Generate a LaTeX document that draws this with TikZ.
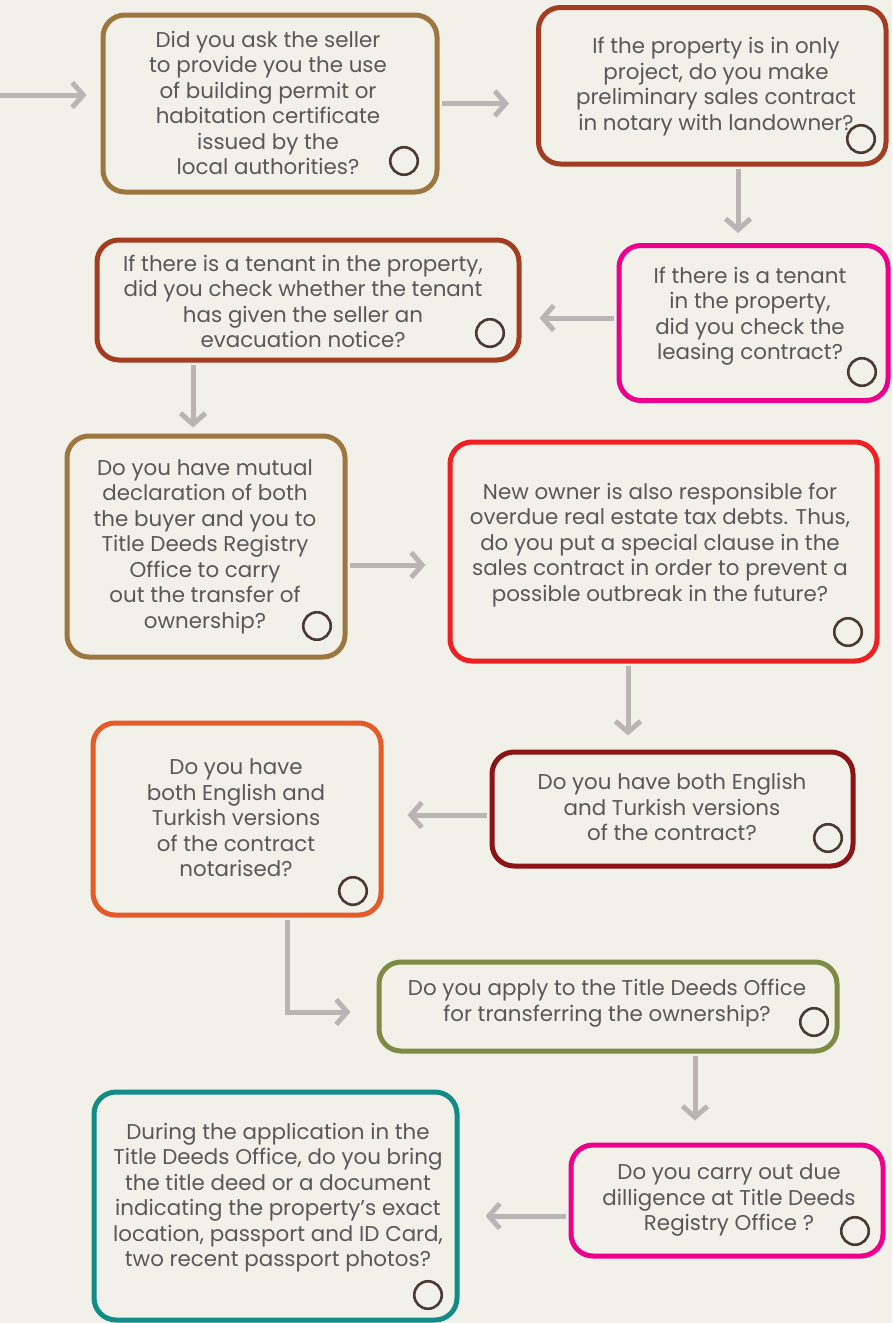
\documentclass[tikz,border=0pt]{standalone}
\usepackage{fontspec}
\setmainfont{Poppins}
\usetikzlibrary{arrows.meta,calc}
\definecolor{bg}{HTML}{F1F0E9}
\definecolor{ochre}{HTML}{9C7840}
\definecolor{rust}{HTML}{A33D22}
\definecolor{pinkc}{HTML}{EC008C}
\definecolor{redc}{HTML}{EE2024}
\definecolor{dred}{HTML}{8B1416}
\definecolor{orangec}{HTML}{E35B28}
\definecolor{olive}{HTML}{7E8B44}
\definecolor{tealc}{HTML}{138C87}
\definecolor{txt}{HTML}{58585A}
\definecolor{arrgray}{HTML}{BAB4B4}
\definecolor{chkc}{HTML}{4B3A32}
\begin{document}
\begin{tikzpicture}[x=1pt,y=-1pt,
  box/.style={draw=#1, line width=5pt, rounded corners=22pt, inner sep=0pt, rectangle},
  qtext/.style={align=center, text=txt, font=\fontsize{21.4}{25.5}\selectfont, inner sep=0pt},
  chk/.style={circle, draw=chkc, line width=2.6pt, minimum size=27.5pt, inner sep=0pt},
  arr/.style={draw=arrgray, line width=5pt, shorten <=2.5pt, -{Straight Barb[length=11pt,width=25pt]}}]
\useasboundingbox (0,0) rectangle (892,1323);
\fill[bg] (0,0) rectangle (892,1323);

% boxes
\node[box=ochre, minimum width=334pt, minimum height=177pt] (A) at (270,103.5) {};
\node[box=rust, minimum width=347.5pt, minimum height=156.5pt] (B) at (712.25,85.75) {};
\node[box=pinkc, minimum width=269pt, minimum height=155pt] (C) at (753.5,323) {};
\node[box=rust, minimum width=422pt, minimum height=120pt] (D) at (308,300) {};
\node[box=ochre, minimum width=278pt, minimum height=221pt] (E) at (206,546.5) {};
\node[box=redc, minimum width=427pt, minimum height=219pt] (F) at (663.5,551.5) {};
\node[box=dred, minimum width=361pt, minimum height=114pt] (G) at (672.5,809) {};
\node[box=orangec, minimum width=288pt, minimum height=192pt] (H) at (237,819) {};
\node[box=olive, minimum width=458pt, minimum height=89pt] (I) at (608,1006.5) {};
\node[box=pinkc, minimum width=312pt, minimum height=111pt] (J) at (727,1200.5) {};
\node[box=tealc, minimum width=363pt, minimum height=228pt] (K) at (275.5,1206) {};

% texts
\node[qtext] (tA) at (268,103) {Did you ask the seller\\to provide you the use\\of building permit or\\habitation certificate\\issued by the\\local authorities?};
\node[qtext] (tB) at (716,86.5) {If the property is in only\\project, do you make\\preliminary sales contract\\in notary with landowner?};
\node[qtext] (tC) at (750,316) {If there is a tenant\\in the property,\\did you check the\\leasing contract?};
\node[qtext] (tD) at (303,301.5) {If there is a tenant in the property,\\did you check whether the tenant\\has given the seller an\\evacuation notice?};
\node[qtext] (tE) at (205,546.5) {Do you have mutual\\declaration of both\\the buyer and you to\\Title Deeds Registry\\Office to carry\\out the transfer of\\ownership?};
\node[qtext] (tF) at (660,545) {New owner is also responsible for\\overdue real estate tax debts. Thus,\\do you put a special clause in the\\sales contract in order to prevent a\\possible outbreak in the future?};
\node[qtext] (tG) at (672,807) {Do you have both English\\and Turkish versions\\of the contract?};
\node[qtext] (tH) at (236,818) {Do you have\\both English and\\Turkish versions\\of the contract\\notarised?};
\node[qtext] (tI) at (607,1003) {Do you apply to the Title Deeds Office\\for transferring the ownership?};
\node[qtext] (tJ) at (729,1200) {Do you carry out due\\dilligence at Title Deeds\\Registry Office ?};
\node[qtext] (tK) at (278,1197.5) {During the application in the\\Title Deeds Office, do you bring\\the title deed or a document\\indicating the property’s exact\\location, passport and ID Card,\\two recent passport photos?};

% check circles
\node[chk] (cA) at (404,161) {};
\node[chk] (cB) at (861,139) {};
\node[chk] (cC) at (862,372) {};
\node[chk] (cD) at (490,333) {};
\node[chk] (cE) at (317,626) {};
\node[chk] (cF) at (848,632) {};
\node[chk] (cG) at (828,838) {};
\node[chk] (cH) at (353,891) {};
\node[chk] (cI) at (814,1022) {};
\node[chk] (cJ) at (855,1231) {};
\node[chk] (cK) at (428,1295) {};

% connector helpers
\coordinate (start) at (0,95);
\coordinate (bc) at (738,0);
\coordinate (cd) at (0,318);
\coordinate (de) at (193,0);
\coordinate (ef) at (0,565);
\coordinate (fg) at (628,0);
\coordinate (gh) at (0,815);
\coordinate (hi) at (287,1012);
\coordinate (ij) at (695,0);
\coordinate (jk) at (0,1216);

% connectors
\draw[arr, shorten <=0pt] (start) -- ($(A.west |- start)+(-14,0)$);
\draw[arr] (A.east) -- ($(B.west |- A.east)+(-27,0)$);
\draw[arr] (B.south -| bc) -- ($(C.north -| bc)+(0,-10)$);
\draw[arr] (C.west |- cd) -- ($(D.east |- cd)+(18,0)$);
\draw[arr] (D.south -| de) -- ($(E.north -| de)+(0,-6)$);
\draw[arr] (E.east |- ef) -- ($(F.west |- ef)+(-22,0)$);
\draw[arr] (F.south -| fg) -- ($(G.north -| fg)+(0,-14)$);
\draw[arr] (G.west |- gh) -- ($(H.east |- gh)+(24,0)$);
\draw[arr] (H.south -| hi) |- ($(I.west |- hi)+(-26,0)$);
\draw[arr] (I.south -| ij) -- ($(J.north -| ij)+(0,-22)$);
\draw[arr] (J.west |- jk) -- ($(K.east |- jk)+(26,0)$);
\end{tikzpicture}
\end{document}
